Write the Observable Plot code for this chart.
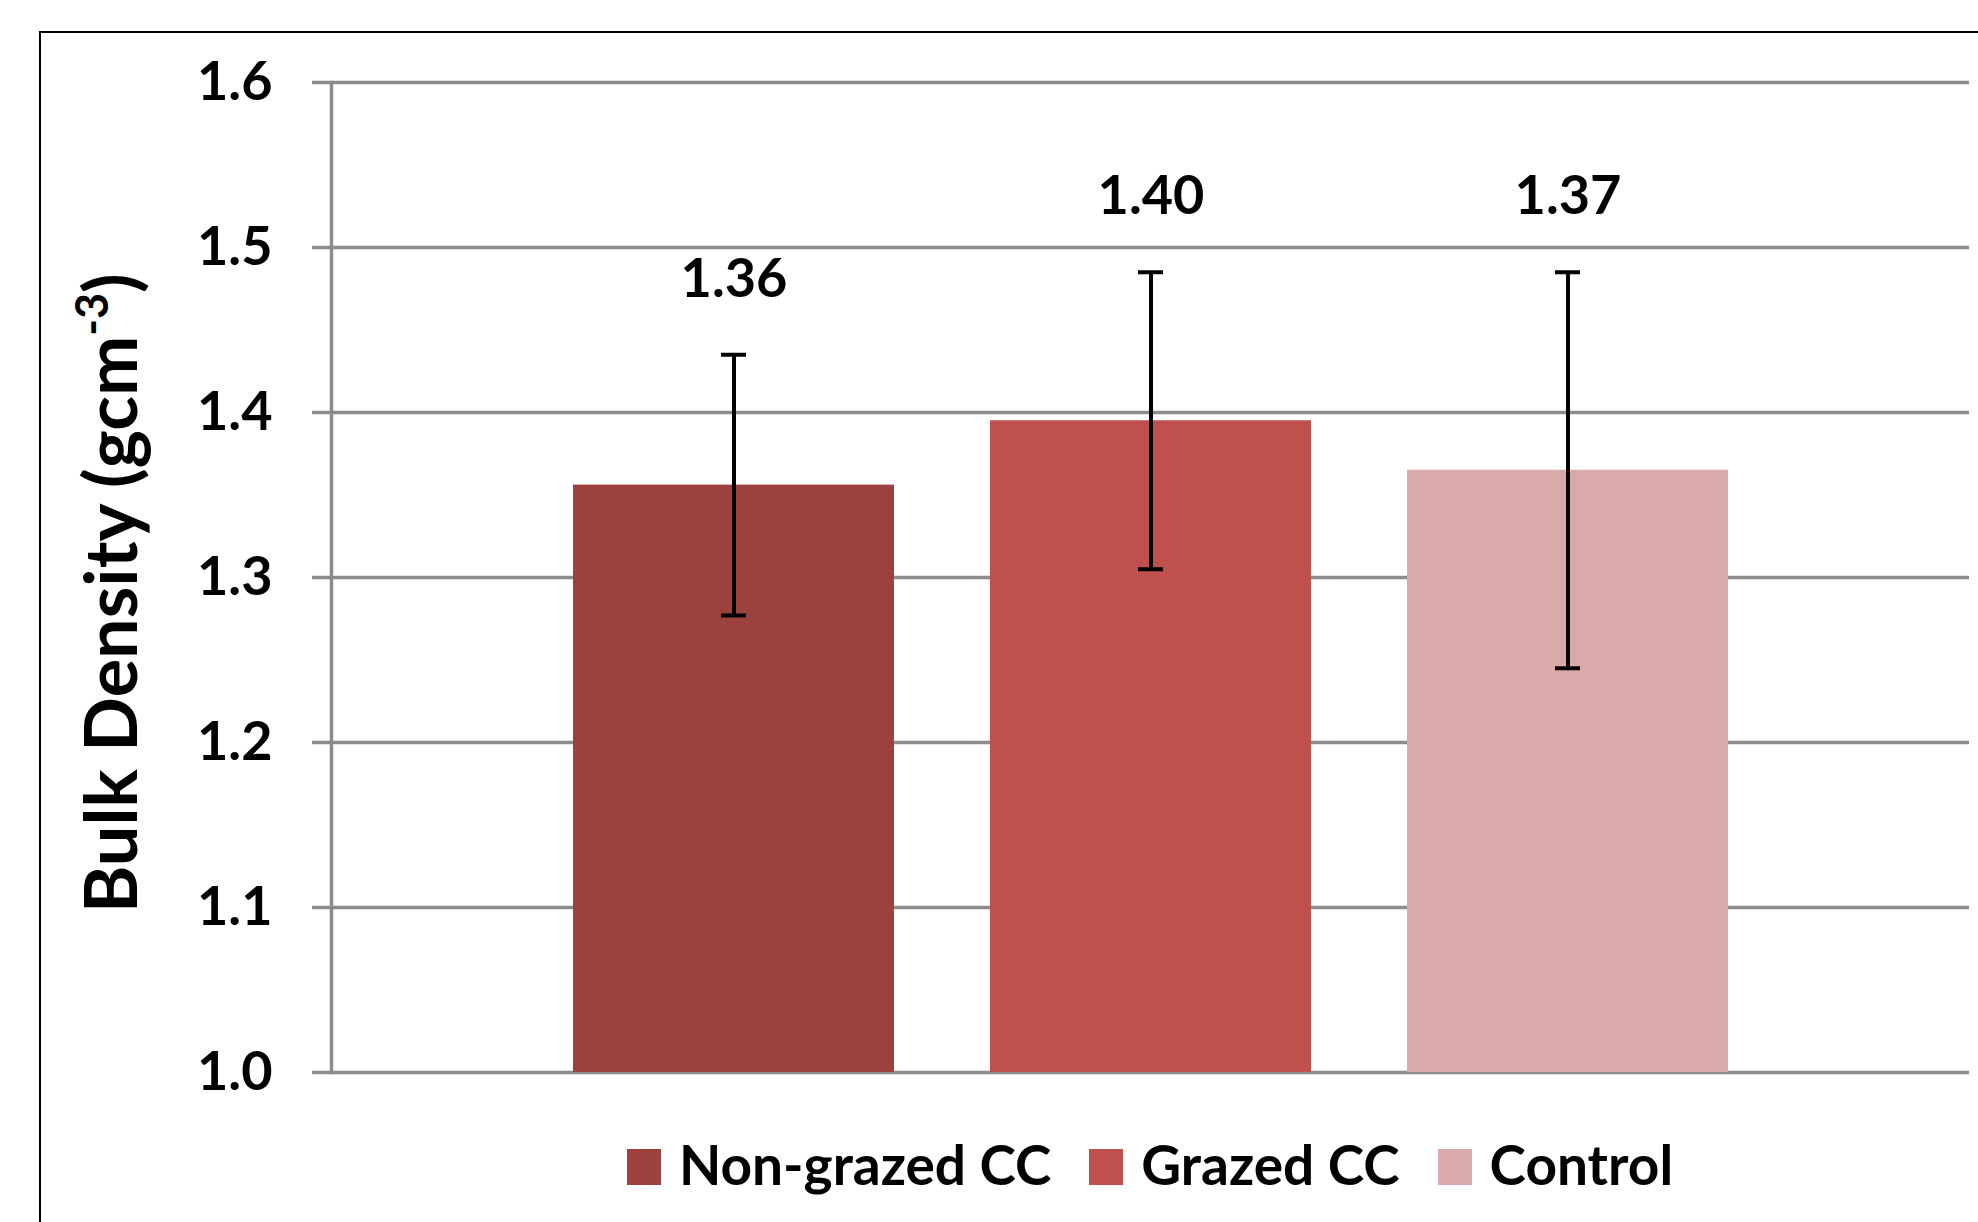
<!DOCTYPE html>
<html><head><meta charset="utf-8">
<script src="https://cdn.jsdelivr.net/npm/d3@7"></script>
<script src="https://cdn.jsdelivr.net/npm/@observablehq/plot@0.6"></script>
<style>
html,body{margin:0;padding:0;background:#fff;width:1978px;height:1222px;overflow:hidden;font-family:Lato,'Open Sans',sans-serif;}
#frame{position:absolute;left:39px;top:31px;width:2100px;height:1300px;border-left:2px solid #000;border-top:2px solid #000;}
#chart{position:absolute;left:0;top:0;}
#legend{position:absolute;left:331px;width:1638px;top:1136px;display:flex;justify-content:center;align-items:center;font-weight:700;font-size:55px;line-height:56px;color:#000;}
.item{display:flex;align-items:center;margin:0 19px;}
.sw{width:34px;height:36px;margin-right:18px;margin-top:6px;}
</style></head><body>
<div id="frame"></div><div id="chart"></div><div id="legend"></div>
<script>
const categories = ["Non-grazed CC", "Grazed CC", "Control"];
const means = [1.356, 1.395, 1.365];
const errors = [0.079, 0.090, 0.120];
const valueLabels = ["1.36", "1.40", "1.37"];
const colors = ["#9D413F", "#C0504D", "#DAA9A9"];
const yTicks = [1.0, 1.1, 1.2, 1.3, 1.4, 1.5, 1.6];
const yTitle = "Bulk Density (gcm";
const yTitleSup = "-3";
const yTitleEnd = ")";

const data = categories.map((c, i) => ({cat: c, mean: means[i], err: errors[i], label: valueLabels[i]}));
const fmt = d3.format(".1f");
const font = "Lato, 'Open Sans', sans-serif";
const grid = "#8c8c8c";

const chart = Plot.plot({
  width: 1978, height: 1110,
  marginLeft: 331, marginRight: 9, marginTop: 82, marginBottom: 38,
  style: {fontFamily: font, background: "transparent", overflow: "visible"},
  x: {domain: categories, paddingInner: 0.231, paddingOuter: 0.577, axis: null},
  y: {domain: [yTicks[0], yTicks[yTicks.length - 1]]},
  color: {domain: categories, range: colors},
  marks: [
    Plot.ruleY(yTicks, {stroke: grid, strokeWidth: 3.5}),
    Plot.axisY(yTicks, {tickSize: 19, tickPadding: 40, stroke: grid, strokeWidth: 3.5, strokeOpacity: 1,
      fontSize: 54, fontWeight: 700, fill: "#000", label: null, tickFormat: fmt}),
    Plot.frame({anchor: "left", stroke: grid, strokeWidth: 3.5}),
    Plot.barY(data, {x: "cat", y1: yTicks[0], y2: "mean", fill: "cat"}),
    Plot.ruleX(data, {x: "cat", y1: d => d.mean - d.err, y2: d => d.mean + d.err, stroke: "#000", strokeWidth: 4}),
    Plot.tickY(data, {x: "cat", y: d => d.mean + d.err, stroke: "#000", strokeWidth: 4, inset: 148}),
    Plot.tickY(data, {x: "cat", y: d => d.mean - d.err, stroke: "#000", strokeWidth: 4, inset: 148}),
    Plot.text(data, {x: "cat", y: d => d.mean + d.err, text: "label", lineAnchor: "bottom", dy: -58,
      fontSize: 54, fontWeight: 700, fill: "#000"})
  ]
});
document.getElementById("chart").appendChild(chart);

// y-axis title with superscript
const svg = d3.select(chart);
const t = svg.append("text")
  .attr("transform", "translate(137,593) rotate(-90)")
  .attr("text-anchor", "middle")
  .attr("font-family", font)
  .attr("font-weight", 700)
  .attr("font-size", 72)
  .attr("fill", "#000");
t.append("tspan").text(yTitle);
t.append("tspan").attr("font-size", 45).attr("dy", -29).text(yTitleSup);
t.append("tspan").attr("dy", 29).text(yTitleEnd);

// legend
const legend = d3.select("#legend");
categories.forEach((c, i) => {
  const it = legend.append("div").attr("class", "item");
  it.append("div").attr("class", "sw").style("background", colors[i]);
  it.append("span").text(c);
});
</script>
</body></html>
